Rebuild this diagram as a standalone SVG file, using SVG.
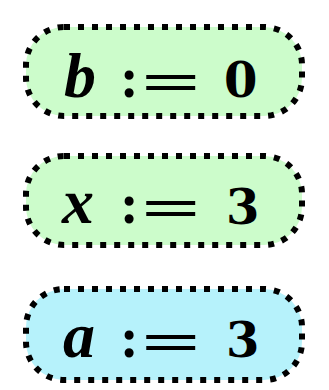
<svg xmlns="http://www.w3.org/2000/svg" width="329" height="390" viewBox="0 0 329 390">
<style>
.box{stroke:#000;stroke-width:6;stroke-dasharray:6 8;}
.g{fill:#ccfccb;}
.c{fill:#b6f2fb;}
.v{font-family:"Liberation Serif",serif;font-weight:bold;font-style:italic;font-size:64px;fill:#000;}
.o{font-family:"Liberation Serif",serif;font-weight:bold;font-size:56px;fill:#000;}
.d{font-family:"DejaVu Serif",serif;font-weight:bold;font-size:48px;fill:#000;}
</style>
<rect width="329" height="390" fill="#fff"/>
<g id="node-b">
<rect class="box g" x="26" y="27" width="276" height="89" rx="38"/>
<text class="v" x="64" y="97">b</text>
<text class="o" x="120" y="97">:</text>
<text class="o" x="141" y="101" textLength="60" lengthAdjust="spacingAndGlyphs">=</text>
<text class="d" x="224" y="97">0</text>
</g>
<g id="node-x">
<rect class="box g" x="26" y="156" width="276" height="89" rx="38"/>
<text class="v" x="62" y="223">x</text>
<text class="o" x="120" y="223">:</text>
<text class="o" x="141" y="227" textLength="60" lengthAdjust="spacingAndGlyphs">=</text>
<text class="d" x="226" y="224">3</text>
</g>
<g id="node-a">
<rect class="box c" x="26" y="289" width="276" height="91" rx="38"/>
<text class="v" x="63" y="357">a</text>
<text class="o" x="120" y="357">:</text>
<text class="o" x="141" y="361" textLength="60" lengthAdjust="spacingAndGlyphs">=</text>
<text class="d" x="226" y="357">3</text>
</g>
<g id="connectors"></g>
</svg>
